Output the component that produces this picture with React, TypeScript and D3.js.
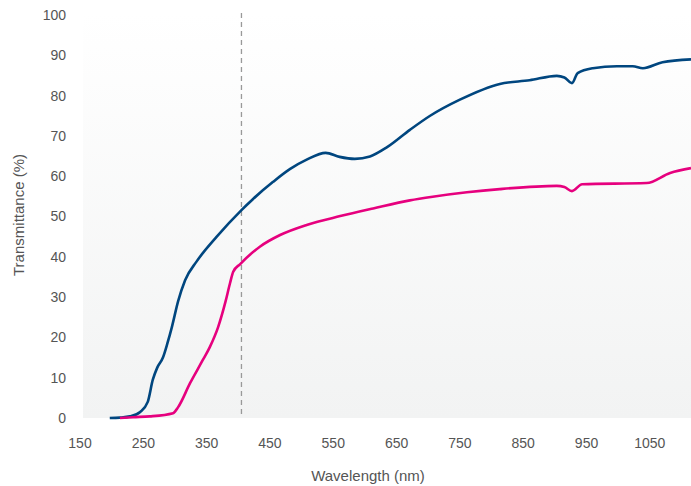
import React from "react";
import * as d3 from "d3";

const xTicks = [150, 250, 350, 450, 550, 650, 750, 850, 950, 1050];
const yTicks = [0, 10, 20, 30, 40, 50, 60, 70, 80, 90, 100];
const cutoffWavelength = 405;

const blueSeries: [number, number][] = [
  [197, 0], [213, 0.1], [229, 0.4], [245, 1.5], [257, 4], [265, 9.5], [272, 12.5],
  [281, 15], [288, 18.5], [295, 22.5], [305, 29], [316, 34.2], [334, 38.8], [366, 45],
  [405, 51.6], [423, 54.3], [455, 58.6], [482, 61.8], [508, 64.1], [538, 65.8],
  [560, 64.8], [584, 64.3], [608, 64.9], [635, 67.2], [671, 71.5], [703, 75], [750, 79],
  [813, 82.9], [860, 83.8], [903, 84.9], [915, 84.5], [927, 83.1], [936, 85.6],
  [960, 86.8], [998, 87.3], [1023, 87.3], [1039, 86.8], [1070, 88.3], [1115, 89],
];

const pinkSeries: [number, number][] = [
  [213, 0], [234, 0.2], [260, 0.4], [297, 1.2], [305, 2.7], [324, 8.7], [344, 14.4],
  [355, 17.6], [368, 22.5], [380, 29], [387, 33.5], [392, 36.3], [403, 38.2],
  [434, 42.5], [466, 45.4], [508, 47.9], [561, 50.1], [613, 52], [671, 54],
  [707, 54.9], [761, 56], [813, 56.8], [903, 57.6], [915, 57.3], [927, 56.3],
  [943, 58], [1045, 58.3], [1082, 60.8], [1115, 62],
];

export default function App() {
  const W = 691, H = 486;
  const x = d3.scaleLinear().domain([150, 1115]).range([80, 691]);
  const y = d3.scaleLinear().domain([0, 100]).range([418, 15]);
  const line = d3
    .line<[number, number]>()
    .x((d) => x(d[0]))
    .y((d) => y(d[1]))
    .curve(d3.curveMonotoneX);
  const font = "'Liberation Sans', Arial, sans-serif";
  const textColor = "#555";
  return (
    <svg width={W} height={H} style={{ position: "absolute", left: 0, top: 0 }}>
      <defs>
        <linearGradient id="bg" x1="0" y1="0" x2="0" y2="1">
          <stop offset="0" stopColor="#ffffff" />
          <stop offset="1" stopColor="#f2f3f3" />
        </linearGradient>
      </defs>
      <rect x={83} y={13} width={W - 83} height={418 - 13} fill="url(#bg)" />
      <line
        x1={x(cutoffWavelength)}
        x2={x(cutoffWavelength)}
        y1={13}
        y2={418}
        stroke="#999"
        strokeWidth={1.3}
        strokeDasharray="5,4"
      />
      <path d={line(blueSeries) || ""} fill="none" stroke="#00467f" strokeWidth={2.6} />
      <path d={line(pinkSeries) || ""} fill="none" stroke="#e6007e" strokeWidth={2.6} />
      {yTicks.map((t) => (
        <text key={t} x={66} y={y(t)} dy="0.35em" textAnchor="end" fontSize={14} fill={textColor} fontFamily={font}>
          {t}
        </text>
      ))}
      {xTicks.map((t) => (
        <text key={t} x={x(t)} y={443} dy="0.35em" textAnchor="middle" fontSize={14} fill={textColor} fontFamily={font}>
          {t}
        </text>
      ))}
      <text x={368} y={476} dy="0.35em" textAnchor="middle" fontSize={15} fill={textColor} fontFamily={font}>
        Wavelength (nm)
      </text>
      <text
        transform={`translate(19,215) rotate(-90)`}
        dy="0.35em"
        textAnchor="middle"
        fontSize={15}
        fill={textColor}
        fontFamily={font}
      >
        Transmittance (%)
      </text>
    </svg>
  );
}
